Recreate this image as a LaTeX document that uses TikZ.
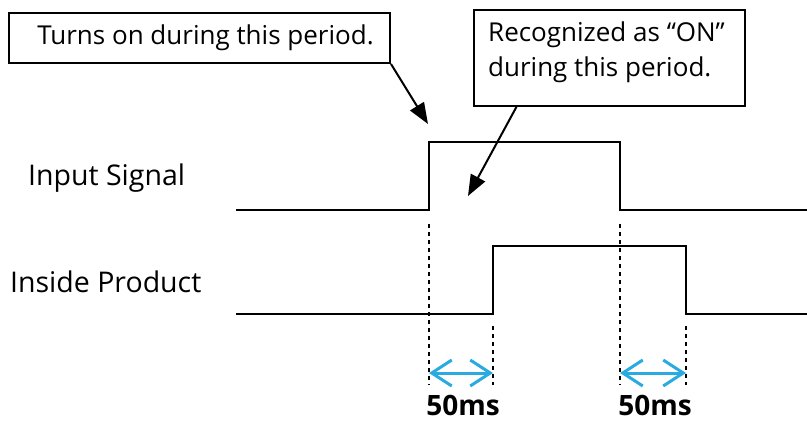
\documentclass[tikz,border=0pt]{standalone}
\usepackage{fontspec}
\setmainfont{Open Sans}
\usepackage{tikz}
\usetikzlibrary{positioning, arrows.meta, calc}
\definecolor{delayblue}{RGB}{41,171,226}
\tikzset{
    callout/.style={rectangle, draw=black, line width=2pt, inner sep=0pt},
    sigtext/.style={anchor=base west, inner sep=0pt, font=\fontsize{28.5}{30}\selectfont},
    msstext/.style={anchor=base, inner sep=0pt, font=\bfseries\fontsize{28}{30}\selectfont},
    signal/.style={line width=2pt},
    guide/.style={line width=2.6pt, dash pattern=on 4pt off 4pt},
    pointer/.style={line width=2pt, -{Triangle[length=21pt,width=16pt]}},
    delay/.style={delayblue, line width=3pt, {Straight Barb[length=20pt,width=26pt,line width=3pt]}-{Straight Barb[length=20pt,width=26pt,line width=3pt]}},
}
\begin{document}
\begin{tikzpicture}[x=1pt, y=-1pt]
    \useasboundingbox (0,0) rectangle (807,421);
    % callouts
    \node [callout, minimum width=381pt, minimum height=50pt, font=\fontsize{26}{30}\selectfont] (turns) at (199.5,38) {\hspace*{12pt}Turns on during this period.};
    \node [callout, minimum width=271pt, minimum height=96pt, align=left, text depth=17pt, font=\fontsize{26}{35}\selectfont] (recog) at (609.5,58) {Recognized as “ON”\hspace*{6pt}\\during this period.};
    \coordinate (turnpt) at (428,124);
    \coordinate (recogpt) at (468,196);
    \draw[pointer] (turns.south east) -- (turnpt);
    \draw[pointer] ($(recog.south west)!0.159!(recog.south east)$) -- (recogpt);
    % signal names
    \node [sigtext] (input) at (28,185) {Input Signal};
    \node [sigtext] (inside) at (10,292) {Inside Product};
    % waveforms
    \draw[signal] (236,210) -- (429,210) -- (429,142) -- (620,142) -- (620,210) -- (807,210);
    \draw[signal] (236,314) -- (493,314) -- (493,246) -- (686,246) -- (686,314) -- (807,314);
    % guides
    \foreach \x/\top in {429/224, 620/224, 493/326, 686/326}
        \draw[guide] (\x,\top) -- (\x,385);
    % delays
    \coordinate (onA) at (429,373);
    \coordinate (onB) at (493,373);
    \coordinate (offA) at (620,373);
    \coordinate (offB) at (686,373);
    \draw[delay] (onA) -- (onB);
    \draw[delay] (offA) -- (offB);
    \node [msstext] (onms) at (463,415) {50ms};
    \node [msstext] (offms) at (655,415) {50ms};
\end{tikzpicture}
\end{document}
